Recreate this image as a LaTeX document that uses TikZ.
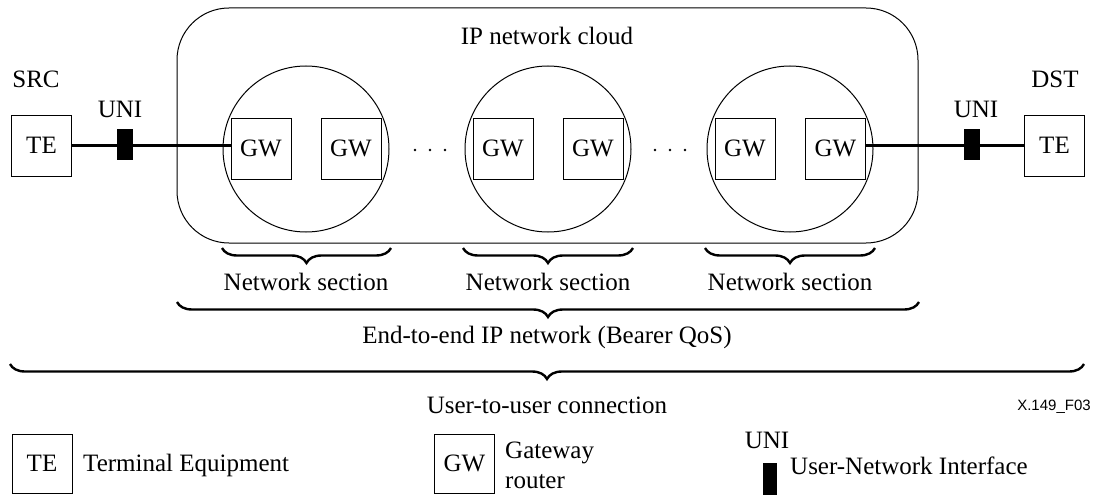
\documentclass[tikz,border=0pt]{standalone}
\usepackage{fontspec}
\setmainfont{Liberation Serif}
\newfontfamily\labelsans{Liberation Sans}
\usetikzlibrary{decorations.pathreplacing,calc}
\begin{document}
\begin{tikzpicture}[x=1pt,y=-1pt,
  font=\fontsize{25}{30}\selectfont,
  box/.style={draw,line width=1pt,minimum width=60pt,minimum height=61pt,inner sep=0pt},
  uniblk/.style={fill=black,draw=none,minimum width=16pt,minimum height=31pt,inner sep=0pt},
  link/.style={line width=2.1pt},
  sect/.style={draw,line width=1pt,circle,minimum size=166pt,inner sep=0pt},
  cloudbox/.style={draw,line width=1pt,rounded corners=52pt,minimum width=741pt,minimum height=235pt,inner sep=0pt},
  brc/.style={decorate,decoration={brace,mirror,amplitude=15pt},line width=2.4pt},
  lbl/.style={inner sep=0pt},
  dot/.style={fill=black}]
\useasboundingbox (0,0) rectangle (1093,495);
% cloud
\node[cloudbox] (cloud) at (547.5,125.5) {};
\node[lbl] (cloudlbl) at (547,36) {IP network cloud};
% network sections
\node[sect] (s1) at (306,149) {};
\node[sect] (s2) at (548,149) {};
\node[sect] (s3) at (790,149) {};
% gateways
\node[box] (gw1) at (261,148.5) {GW};
\node[box] (gw2) at (351,148.5) {GW};
\node[box] (gw3) at (503,148.5) {GW};
\node[box] (gw4) at (593,148.5) {GW};
\node[box] (gw5) at (745,148.5) {GW};
\node[box] (gw6) at (835.5,148.5) {GW};
% terminals
\node[box] (te1) at (41.5,145.5) {TE};
\node[box] (te2) at (1054.5,145.5) {TE};
\node[lbl] (src) at (36,79) {SRC};
\node[lbl] (dst) at (1055,79) {DST};
\node[lbl] (uni1lbl) at (120,109) {UNI};
\node[lbl] (uni2lbl) at (976,109) {UNI};
% links
\draw[link] (te1.east) -- (te1.east -| gw1.west);
\draw[link] (gw6.east |- te2.west) -- (te2.west);
\node[uniblk] (u1) at (125,144.5) {};
\node[uniblk] (u2) at (971.5,144.5) {};
% dots
\foreach \x in {415,430,445,655,670,685} \fill[dot] (\x,150) circle (1.4pt);
% braces
\draw[brc] (222,248) -- (391,248);
\draw[brc] (463,248) -- (633,248);
\draw[brc] (705,248) -- (875,248);
\node[lbl] (ns1) at (306,282) {Network section};
\node[lbl] (ns2) at (548,282) {Network section};
\node[lbl] (ns3) at (790,282) {Network section};
\draw[brc] (177,302) -- (919,302);
\node[lbl] (e2e) at (547,337) {End-to-end IP network (Bearer QoS)};
\draw[brc] (10,364) -- (1084,364);
\node[lbl] (u2u) at (547,405) {User-to-user connection};
\node[lbl,font=\labelsans\fontsize{15}{18}\selectfont] (fig) at (1054,407) {X.149\_F03};
% legend
\node[box,minimum height=59pt] (lte) at (42,463.5) {TE};
\node[lbl,anchor=west] (ltetxt) at (83,465) {Terminal Equipment};
\node[box,minimum height=59pt] (lgw) at (464.5,463.5) {GW};
\node[lbl,anchor=west,align=left] (lgwtxt) at (505,465) {Gateway\\router};
\node[lbl] (lunilbl) at (767,440) {UNI};
\node[uniblk,minimum width=14pt,minimum height=32pt] (luni) at (770,479) {};
\node[lbl,anchor=west] (lunitxt) at (790,466) {User-Network Interface};
\end{tikzpicture}
\end{document}
